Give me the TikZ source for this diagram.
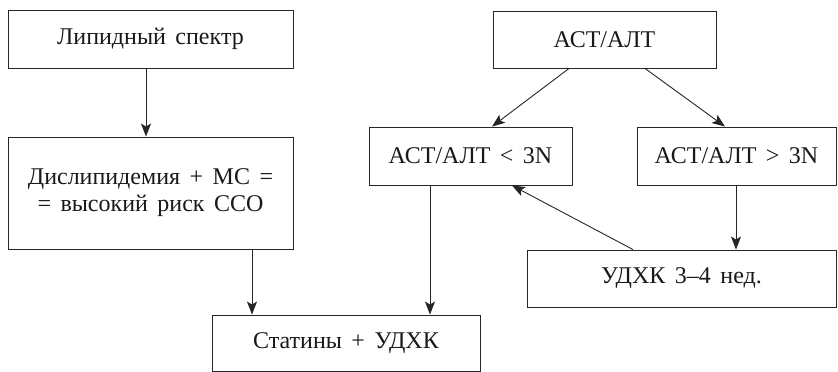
\documentclass[tikz,border=0pt]{standalone}
\usepackage{fontspec}
\setmainfont{Liberation Serif}
\usetikzlibrary{arrows.meta}
\newcommand\myboxfont{\fontsize{24}{27}\selectfont\spaceskip=9.5pt\relax}
\begin{document}
\begin{tikzpicture}[x=1pt,y=-1pt,
  box/.style={draw=black!85, line width=0.9pt, fill=white, inner sep=0pt, align=center,
    font=\myboxfont, text=black!90},
  conn/.style={draw=black!85, line width=0.9pt, -{Stealth[length=13pt,width=10pt,inset=3pt]}}]
\useasboundingbox (0,0) rectangle (838,372);
\node[box, minimum width=285pt, minimum height=58pt] (lip) at (150.5,39) {Липидный спектр};
\node[box, minimum width=285pt, minimum height=112pt] (dis) at (150.5,193) {Дислипидемия + МС =\\= высокий риск ССО};
\node[box, minimum width=268pt, minimum height=56pt] (stat) at (346,343) {Статины + УДХК};
\node[box, minimum width=223pt, minimum height=57pt] (ast) at (604.5,39.5) {АСТ/АЛТ};
\node[box, minimum width=203pt, minimum height=58pt] (lt) at (470.5,156) {АСТ/АЛТ < 3N};
\node[box, minimum width=199pt, minimum height=58pt] (gt) at (736.5,156) {АСТ/АЛТ > 3N};
\node[box, minimum width=309pt, minimum height=57pt] (udx) at (681.5,278.5) {УДХК 3–4 нед.};
\draw[conn] (lip.south -| 146,0) -- (dis.north -| 146,0);
\draw[conn] (dis.south -| 252,0) -- (stat.north -| 252,0);
\draw[conn] (lt.south -| 430,0) -- (stat.north -| 430,0);
\draw[conn] (ast.south -| 569,0) -- (lt.north -| 492,0);
\draw[conn] (ast.south -| 645,0) -- (gt.north -| 725,0);
\draw[conn] (gt.south -| 736,0) -- (udx.north -| 736,0);
\draw[conn] (udx.north -| 633,0) -- (lt.south -| 512,0);
\end{tikzpicture}
\end{document}
